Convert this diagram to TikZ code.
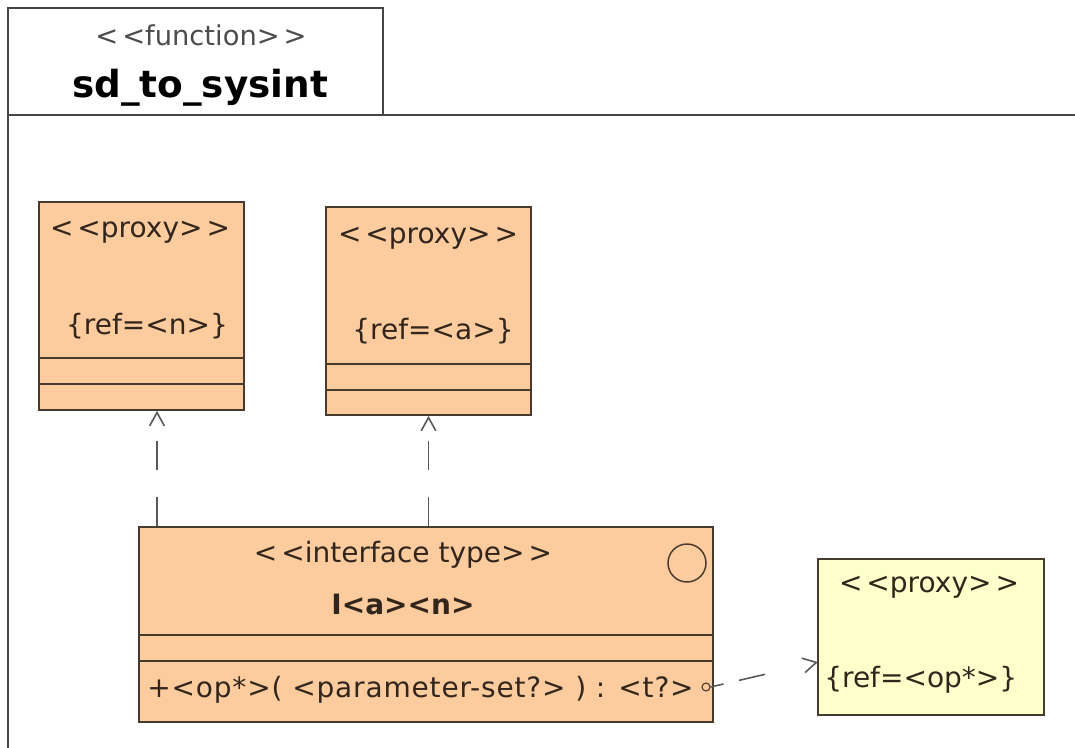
\documentclass[tikz,border=0pt]{standalone}
\usepackage{fontspec}
\setmainfont{DejaVu Sans}[Ligatures=TeXOff]
\usetikzlibrary{arrows.meta}
\definecolor{peach}{RGB}{252,203,158}
\definecolor{cream}{RGB}{255,255,204}
\definecolor{edge}{RGB}{72,58,44}
\definecolor{txt}{RGB}{50,38,28}
\definecolor{frame}{RGB}{70,70,70}
\newcommand\sLt{<\kern3pt<}
\newcommand\sGt{>\kern3pt>}
\tikzset{
  box/.style={draw=edge, line width=1.3pt, inner sep=0pt, rectangle},
  orangebox/.style={box, fill=peach},
  yellowbox/.style={box, fill=cream},
  lbl/.style={inner sep=0pt, text=txt, font=\fontsize{21}{24}\selectfont},
  dep/.style={draw=frame!90, line width=1.2pt, dash pattern=on 22pt off 20pt, -{Straight Barb[length=10pt,width=11pt,line width=1.2pt]}},
  sep/.style={draw=edge, line width=1.1pt}
}
\begin{document}
\begin{tikzpicture}[x=0.75pt,y=-0.75pt]
\useasboundingbox (0,0) rectangle (1075,748);
% frame
\draw[frame, line width=1.4pt] (8,748) -- (8,8) -- (383,8) -- (383,115);
\draw[frame, line width=1.4pt] (8,115) -- (1075,115);
\node[inner sep=0pt, text=black!70, font=\fontsize{20.5}{24}\selectfont] (fst) at (201,35) {\sLt function\sGt};
\node[inner sep=0pt, font=\fontsize{28}{32}\bfseries\selectfont] (fname) at (200,88) {sd\_to\_sysint};
% proxy n
\node[orangebox, minimum width=153.75pt, minimum height=156pt] (pn) at (141.5,306) {};
\draw[sep] (pn.west |- 0,358) -- (pn.east |- 0,358);
\draw[sep] (pn.west |- 0,384) -- (pn.east |- 0,384);
\node[lbl] (pnst) at (140,232) {\sLt proxy\sGt};
\node[lbl] (pnref) at (147,326) {\{ref=<n>\}};
% proxy a
\node[orangebox, minimum width=153.75pt, minimum height=156pt] (pa) at (428.5,311) {};
\draw[sep] (pa.west |- 0,364) -- (pa.east |- 0,364);
\draw[sep] (pa.west |- 0,390) -- (pa.east |- 0,390);
\node[lbl] (past) at (428,238) {\sLt proxy\sGt};
\node[lbl] (paref) at (433,331) {\{ref=<a>\}};
% interface
\node[orangebox, minimum width=430.5pt, minimum height=146.25pt] (if) at (426,624.5) {};
\draw[sep] (if.west |- 0,635) -- (if.east |- 0,635);
\draw[sep] (if.west |- 0,661) -- (if.east |- 0,661);
\node[lbl] (ifst) at (403,555) {\sLt interface type\sGt};
\node[lbl, font=\fontsize{21}{24}\bfseries\selectfont] (ifname) at (403,604) {I<a><n>};
\node[draw=edge, line width=1.1pt, circle, minimum size=28.5pt, inner sep=0pt] (ifcirc) at (687,563) {};
\node[lbl, anchor=west, font=\fontsize{21}{24}\selectfont\addfontfeature{LetterSpace=3}] (op) at (147,690) {+<op*>( <parameter-set?> ) : <t?>};
\node[draw=edge, circle, line width=0.8pt, minimum size=6pt, inner sep=0pt] (port) at (706,687) {};
% proxy op
\node[yellowbox, minimum width=169.5pt, minimum height=117pt] (po) at (931,637) {};
\node[lbl] (post) at (929,587) {\sLt proxy\sGt};
\node[lbl, anchor=west] (poref) at (824,680) {\{ref=<op*>\}};
% dependencies
\coordinate (a1) at (157,0);
\draw[dep] (if.north -| a1) -- (pn.south -| a1);
\draw[dep] (if.north -| pa) -- (pa.south);
\coordinate (poin) at (818,662);
\draw[dep, dash pattern=on 10pt off 12pt on 20pt off 40pt] (port.east) -- (poin);
\end{tikzpicture}
\end{document}
